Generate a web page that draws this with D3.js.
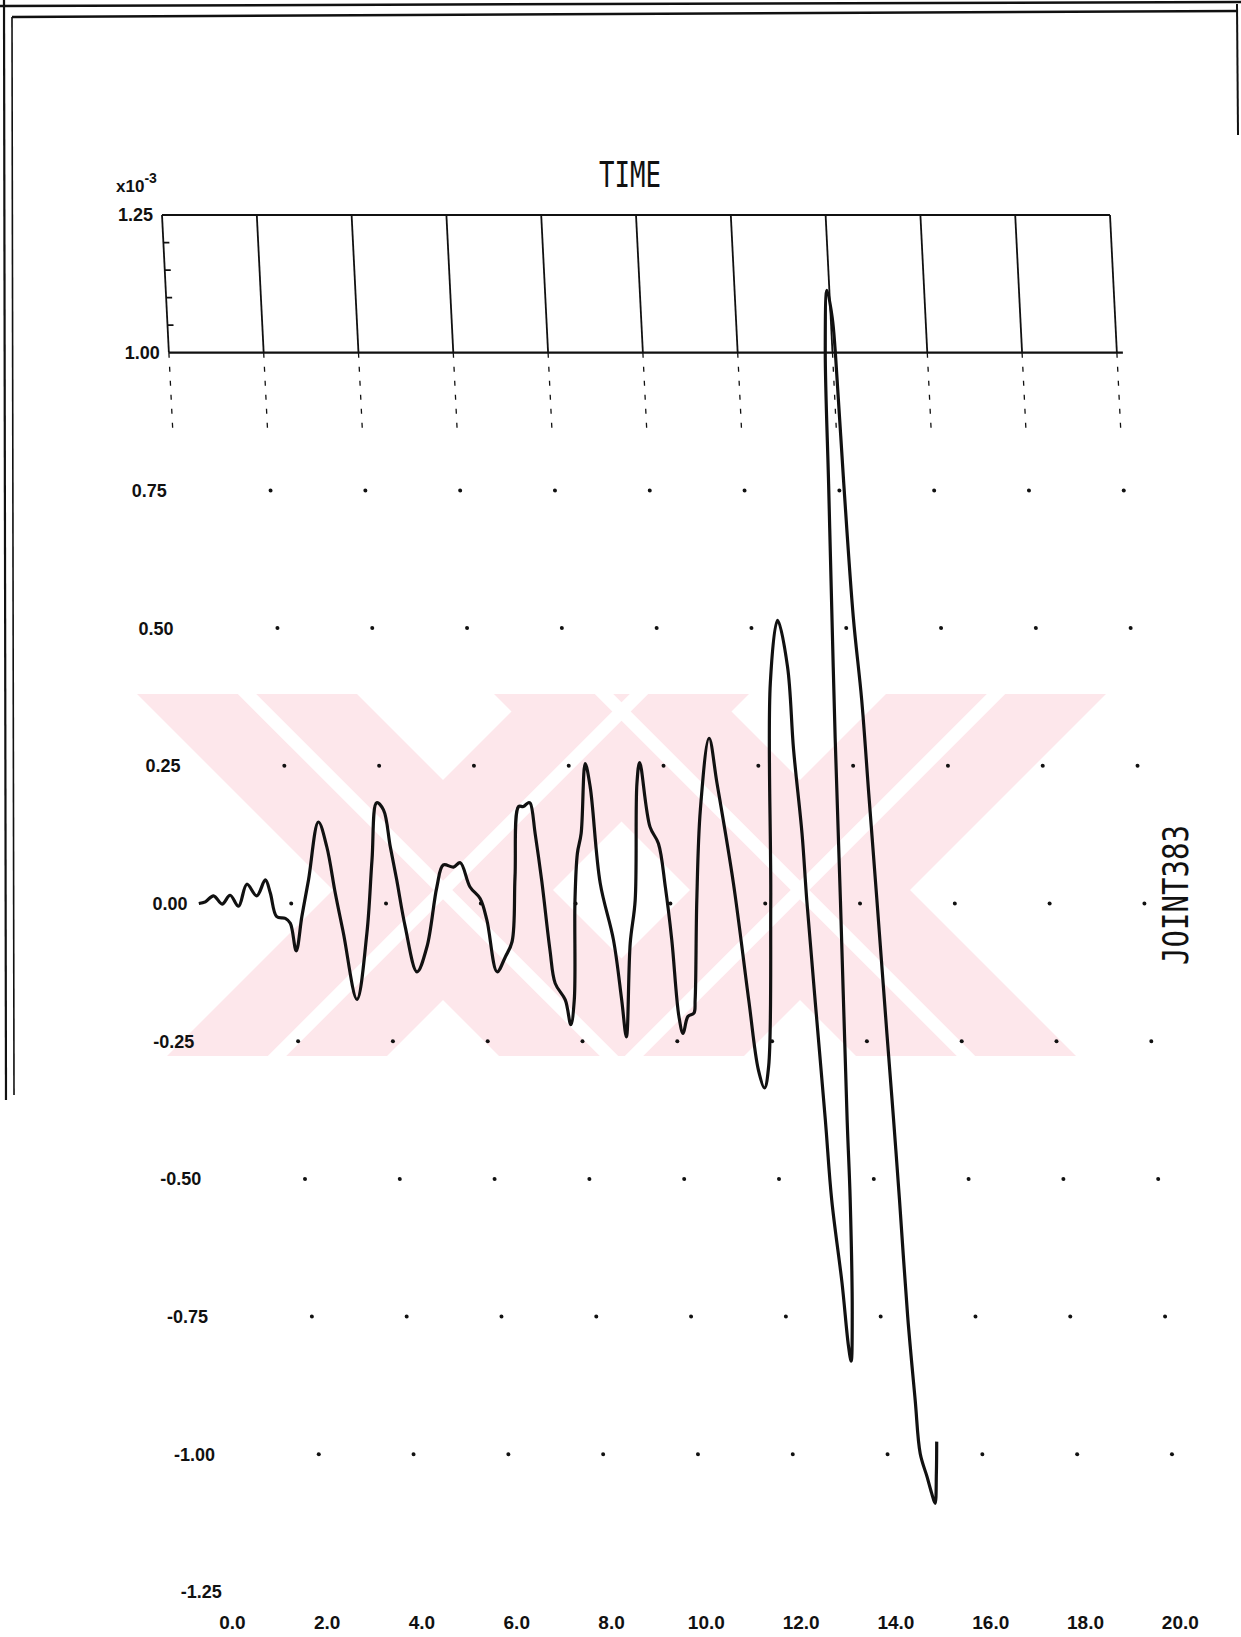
<!DOCTYPE html>
<html>
<head>
<meta charset="utf-8">
<script src="https://cdn.jsdelivr.net/npm/d3@7"></script>
<style>
  html, body { margin: 0; padding: 0; background: #fff; }
  svg { display: block; }
</style>
</head>
<body>
<svg id="chart" width="1241" height="1637"></svg>
<script>
// ---- data: joint response against time (values in units of 1e-3) ----
const times = [
  0.05, 0.19, 0.37, 0.54, 0.72, 0.885, 1.085, 1.28, 1.48, 1.57, 1.68, 1.86, 1.96, 2.055, 2.21, 2.39,
  2.66, 2.81, 2.94, 3.07, 3.285, 3.565, 3.75, 3.91, 4.045, 4.15, 4.25, 4.38, 4.58, 4.82, 5.09, 5.25,
  5.46, 5.61, 5.79, 5.99, 6.11, 6.27, 6.46, 6.62, 6.75, 6.90, 7.00, 7.11, 7.15, 7.22, 7.31, 7.41,
  7.485, 7.68, 7.77, 7.87, 7.99, 8.09, 8.19, 8.35, 8.43, 8.54, 8.76, 8.87, 8.93, 9.11, 9.26, 9.42,
  9.50, 9.65, 9.81, 9.91, 9.99, 10.06, 10.13, 10.25, 10.38, 10.42, 10.56, 10.73, 10.99, 11.11, 11.35, 11.55,
  11.68, 11.79, 11.90, 12.12, 12.34, 12.56, 12.72, 12.76, 12.85, 12.88, 12.95, 13.04, 13.09, 13.22, 13.29, 13.33,
  13.40, 13.48, 13.50, 13.59, 13.65, 13.71, 13.78, 13.85, 13.95, 14.03, 14.06, 14.10, 14.16, 14.25, 14.30, 14.36,
  14.43, 14.48, 14.52, 14.57, 14.64, 14.69, 14.81, 14.89, 14.95, 15.01, 15.05
];
const values = [
  0.000, 0.003, 0.014, -0.001, 0.015, -0.005, 0.035, 0.014, 0.043, 0.019, -0.024, -0.027, -0.036, -0.086, -0.024, 0.043,
  0.148, 0.103, 0.019, -0.054, -0.174, -0.054, 0.079, 0.183, 0.170, 0.103, 0.043, -0.042, -0.124, -0.078, 0.030, 0.070,
  0.066, 0.074, 0.030, 0.009, -0.030, -0.124, -0.097, -0.069, 0.049, 0.176, 0.176, 0.183, 0.182, 0.127, 0.040, -0.085,
  -0.145, -0.175, -0.220, -0.175, 0.006, 0.091, 0.127, 0.254, 0.212, 0.037, -0.066, -0.175, -0.242, -0.072, 0.006, 0.218,
  0.256, 0.139, 0.109, 0.030, -0.066, -0.205, -0.236, -0.205, -0.199, -0.175, 0.006, 0.170, 0.300, 0.218, 0.037, -0.175,
  -0.302, -0.335, -0.296, 0.006, 0.400, 0.514, 0.430, 0.280, 0.127, 0.006, -0.175, -0.393, -0.538, -0.689, -0.804, -0.831,
  -0.750, -0.538, -0.393, 0.006, 0.300, 0.520, 0.762, 1.004, 1.113, 1.065, 1.004, 0.762, 0.520, 0.370, 0.200, 0.006,
  -0.236, -0.393, -0.538, -0.750, -0.902, -0.999, -1.041, -1.071, -1.089, -1.034, -0.977
];
const xTicks = [0, 2, 4, 6, 8, 10, 12, 14, 16, 18, 20];
const yTicks = [1.25, 1.00, 0.75, 0.50, 0.25, 0.00, -0.25, -0.50, -0.75, -1.00, -1.25];
const yMinorTicks = [1.05, 1.10, 1.15, 1.20];
const xTitle = "TIME";
const seriesName = "JOINT383";

// ---- layout ----
const svg = d3.select("#chart");
const x = d3.scaleLinear().domain([0, 20]).range([162, 1110]);
const y = d3.scaleLinear().domain([-1.25, 1.25]).range([1592, 215]);
const lean = 0.05;                 // the sheet drifts right as it goes down
const yTop = y(1.25);
const drift = py => lean * (py - yTop);
const ink = "#111";
const locale = d3.formatLocale({decimal: ".", thousands: ",", grouping: [3], currency: ["", ""], minus: "-"});

// ---- pale background emblem: two crossed double-stroke X shapes ----
const emb = svg.append("g").attr("class", "emblem");
const eTop = 694, eBot = 1056, eCy = 890, armHalf = 110;
emb.append("clipPath").attr("id", "embClip")
  .append("rect").attr("x", 120).attr("y", eTop).attr("width", 1007).attr("height", eBot - eTop);
const embG = emb.append("g").attr("clip-path", "url(#embClip)");
const arms = [];
[443, 800].forEach(cx => [1, -1].forEach(s => arms.push({cx, s})));
const armX = (a, yy) => a.cx + a.s * (yy - eCy);
const yA = eTop - 60, yB = eBot + 60;
embG.selectAll("path.arm").data(arms).join("path").attr("class", "arm")
  .attr("d", a => `M${armX(a, yA) - armHalf},${yA}L${armX(a, yA) + armHalf},${yA}` +
                  `L${armX(a, yB) + armHalf},${yB}L${armX(a, yB) - armHalf},${yB}Z`)
  .attr("fill", "#fde7eb");
embG.selectAll("line.mid").data(arms).join("line").attr("class", "mid")
  .attr("x1", a => armX(a, yA)).attr("y1", yA)
  .attr("x2", a => armX(a, yB)).attr("y2", yB)
  .attr("stroke", "#fff").attr("stroke-width", 13);

// ---- page frame ----
const frame = svg.append("g").attr("stroke", ink).attr("fill", "none");
frame.append("path").attr("d", "M0,6L1241,2").attr("stroke-width", 2.5);
frame.append("path").attr("d", "M12,17L1238,11").attr("stroke-width", 2.5);
frame.append("path").attr("d", "M4,0L6,1100").attr("stroke-width", 2.2);
frame.append("path").attr("d", "M12,17L14,1095").attr("stroke-width", 1.6);
frame.append("path").attr("d", "M1237,4L1238,135").attr("stroke-width", 2);

// ---- plot (sheared with the sheet) ----
const plot = svg.append("g")
  .attr("transform", `translate(${-lean * yTop},0) skewX(${Math.atan(lean) * 180 / Math.PI})`);

const grid = plot.append("g").attr("stroke", ink).attr("fill", "none");
[1.25, 1.00].forEach(v => {
  grid.append("line")
    .attr("x1", x(0)).attr("x2", x(20) + (v === 1 ? 6 : 0))
    .attr("y1", y(v)).attr("y2", y(v)).attr("stroke-width", 2.2);
});
grid.selectAll("line.v").data(xTicks).join("line").attr("class", "v")
  .attr("x1", d => x(d)).attr("x2", d => x(d))
  .attr("y1", y(1.25)).attr("y2", y(1.00)).attr("stroke-width", 1.8);
grid.selectAll("line.vd").data(xTicks).join("line").attr("class", "vd")
  .attr("x1", d => x(d)).attr("x2", d => x(d))
  .attr("y1", y(1.00)).attr("y2", y(0.85))
  .attr("stroke-width", 1.3).attr("stroke-dasharray", "5,9");
grid.selectAll("line.mt").data(yMinorTicks).join("line").attr("class", "mt")
  .attr("x1", x(0)).attr("x2", x(0) + 6)
  .attr("y1", d => y(d)).attr("y2", d => y(d)).attr("stroke-width", 1.8);
const dots = [];
xTicks.filter(t => t > 0).forEach(t => {
  yTicks.filter(v => v < 0.9 && v > -1.2).forEach(v => dots.push({t, v}));
});
grid.selectAll("circle").data(dots).join("circle")
  .attr("cx", d => x(d.t)).attr("cy", d => y(d.v)).attr("r", 2)
  .attr("fill", ink).attr("stroke", "none");

// response curve
const pts = times.map((t, i) => ({t, v: values[i]}));
const line = d3.line().x(d => x(d.t)).y(d => y(d.v)).curve(d3.curveCatmullRom.alpha(0.5));
plot.append("path").datum(pts).attr("d", line)
  .attr("fill", "none").attr("stroke", ink).attr("stroke-width", 3.2)
  .attr("stroke-linejoin", "round");

// ---- text ----
const labFont = "'Liberation Sans', Arial, sans-serif";
const fmtY = locale.format(".2f");
svg.append("g").selectAll("text").data(yTicks).join("text")
  .attr("x", d => 153 + drift(y(d)))
  .attr("y", d => y(d)).attr("dy", "0.36em")
  .attr("text-anchor", "end")
  .attr("font-family", labFont).attr("font-weight", "bold").attr("font-size", 18)
  .attr("fill", ink)
  .text(d => fmtY(d));

const xLabY = 1629;
svg.append("g").selectAll("text").data(xTicks).join("text")
  .attr("x", d => x(d) + drift(1622))
  .attr("y", xLabY)
  .attr("text-anchor", "middle")
  .attr("font-family", labFont).attr("font-weight", "bold").attr("font-size", 19)
  .attr("fill", ink)
  .text(d => locale.format(".1f")(d));

const mult = svg.append("text").attr("x", 116).attr("y", 192)
  .attr("font-family", labFont).attr("font-weight", "bold").attr("font-size", 17).attr("fill", ink);
mult.append("tspan").text("x10");
mult.append("tspan").attr("dy", -9).attr("font-size", 14).text("-3");

const plotterFont = "'DejaVu Sans Mono', monospace";
svg.append("text").attr("x", 630).attr("y", 187)
  .attr("text-anchor", "middle")
  .attr("font-family", plotterFont).attr("font-size", 35)
  .attr("textLength", 62).attr("lengthAdjust", "spacingAndGlyphs")
  .attr("fill", ink).text(xTitle);

svg.append("text")
  .attr("transform", "translate(1188,895) rotate(-90)")
  .attr("text-anchor", "middle")
  .attr("font-family", plotterFont).attr("font-size", 35)
  .attr("textLength", 140).attr("lengthAdjust", "spacingAndGlyphs")
  .attr("fill", ink).text(seriesName);
</script>
</body>
</html>
